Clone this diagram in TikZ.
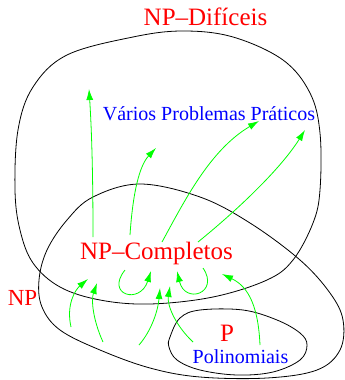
\documentclass[tikz,border=0pt]{standalone}
\usepackage{fontspec}
\setmainfont{Liberation Serif}
\usetikzlibrary{arrows.meta}

\begin{document}
\begin{tikzpicture}[x=1pt,y=-1pt,>={Latex[length=11pt,width=7pt]},
  flow/.style={->,green,line width=0.8pt},
  border/.style={black,line width=0.8pt},
  redlbl/.style={red,anchor=base,inner sep=0pt,font=\fontsize{25}{30}\selectfont},
  bluelbl/.style={blue,anchor=base,inner sep=0pt,font=\fontsize{20}{24}\selectfont}]
  \useasboundingbox (0,0) rectangle (345,380);
  % the three sets
  \draw[border] plot[smooth cycle,tension=0.6] coordinates {(183,31) (233,37) (283,60) (310,93) (320,133)
    (320,190) (313,223) (293,260) (267,280) (213,297) (150,304) (100,300) (60,287) (33,263)
    (20,230) (15,190) (18,130) (33,87) (67,55) (133,37)};
  \draw[border] plot[smooth cycle,tension=0.6] coordinates {(140,184) (200,197) (250,223) (300,260)
    (330,293) (343,320) (340,350) (317,370) (267,378) (200,377) (150,368) (100,350) (60,330)
    (42,307) (39,280) (47,250) (67,220) (93,197)};
  \draw[border] plot[smooth cycle,tension=0.6] coordinates {(170,337) (180,318) (200,310) (243,310)
    (277,320) (300,333) (307,345) (300,360) (273,372) (237,375) (200,370) (177,360) (169,347)};
  % labels
  \node[redlbl] (hard) at (205.5,25) {NP--Difíceis};
  \node[redlbl] (npc) at (156.5,259) {NP--Completos};
  \node[redlbl,font=\fontsize{23}{28}\selectfont] (np) at (22.5,305) {NP};
  \node[redlbl] (p) at (227,341) {P};
  \node[bluelbl] (prat) at (209,120) {Vários Problemas Práticos};
  \node[bluelbl] (poly) at (240.5,363) {Polinomiais};
  % ends of the reductions
  \coordinate (o1) at (93,237);
  \coordinate (o2) at (130,235);
  \coordinate (o3) at (162,242);
  \coordinate (o4) at (198,242);
  \coordinate (t1) at (89,89);
  \coordinate (t2) at (156,148);
  \coordinate (t3) at (259,121);
  \coordinate (t4) at (305,130);
  \coordinate (s1) at (71,327);
  \coordinate (s2) at (103,342);
  \coordinate (s3) at (139,345);
  \coordinate (s4) at (193,342);
  \coordinate (s5) at (260,345);
  \coordinate (i1) at (88,279);
  \coordinate (i2) at (97,283);
  \coordinate (i3) at (160,288);
  \coordinate (i4) at (170,286);
  \coordinate (i5) at (222,274);
  \coordinate (l1) at (125,270);
  \coordinate (j1) at (151,271);
  \coordinate (l2) at (203,268);
  \coordinate (j2) at (177,271);
  % out of NP-Completos
  \draw[flow] (o1) .. controls (93,160) and (91,120) .. (t1);
  \draw[flow] (o2) .. controls (133,190) and (140,165) .. (t2);
  \draw[flow] (o3) .. controls (185,200) and (210,150) .. (t3);
  \draw[flow] (o4) .. controls (235,212) and (280,170) .. (t4);
  % into NP-Completos
  \draw[flow] (s1) .. controls (66,305) and (75,290) .. (i1);
  \draw[flow] (s2) .. controls (93,320) and (91,300) .. (i2);
  \draw[flow] (s3) .. controls (152,330) and (158,310) .. (i3);
  \draw[flow] (s4) .. controls (175,325) and (167,305) .. (i4);
  \draw[flow] (s5) .. controls (258,300) and (245,285) .. (i5);
  \draw[flow] (l1) .. controls (105,295) and (140,305) .. (j1);
  \draw[flow] (l2) .. controls (220,293) and (185,305) .. (j2);
\end{tikzpicture}
\end{document}
